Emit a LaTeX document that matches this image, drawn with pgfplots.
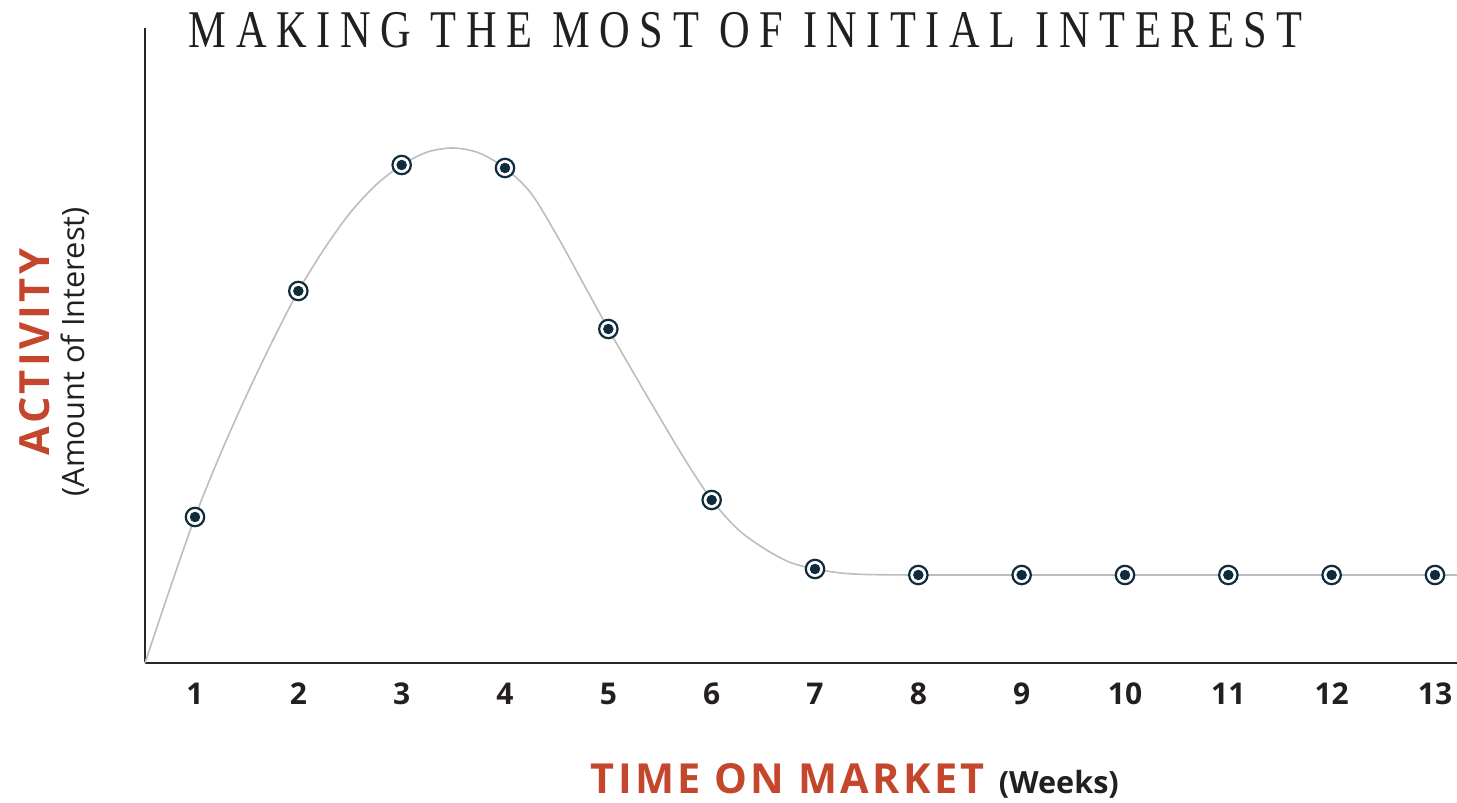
\documentclass[border=0pt]{standalone}
\usepackage{fontspec}
\setmainfont{Open Sans}
\newfontfamily\titlefont[FakeStretch=0.80,LetterSpace=18]{Liberation Serif}
\newfontfamily\spacedbold[LetterSpace=8]{Open Sans}
\usepackage{pgfplots}
\pgfplotsset{compat=1.18}
\definecolor{accent}{HTML}{C4472D}
\definecolor{markdark}{HTML}{0F2B3C}
\definecolor{curvegray}{HTML}{BDBDBD}
\definecolor{textdark}{HTML}{231F20}
\begin{document}
\begin{tikzpicture}
\begin{axis}[
  name=ax,
  scale only axis,
  width=656pt, height=317.5pt,
  xmin=0.516, xmax=13.213,
  ymin=0, ymax=635,
  axis x line=bottom, axis y line=left,
  axis line style={-, line width=1.1pt, black!85},
  xtick={1,...,13}, ytick=\empty,
  major tick length=0pt,
  /pgf/number format/assume math mode=true,
  xticklabel style={font=\fontsize{15}{18}\selectfont\bfseries, text=textdark, yshift=-6.5pt},
  clip=false,
]
\addplot[curvegray, line width=0.8pt, smooth, tension=0.5] coordinates {
(0.516,0) (0.75,72) (1,146) (1.25,210) (1.5,268) (1.75,322) (2,372)
(2.25,414) (2.5,450) (2.75,478) (3,498) (3.25,511) (3.5,515) (3.75,510)
(4,495) (4.25,470) (4.5,428) (4.75,381) (5,334) (5.25,289) (5.5,245)
(5.75,202) (6,163) (6.25,134) (6.5,115) (6.75,101) (7,94) (7.25,90)
(7.5,88.5) (8,88) (9,88) (10,88) (11,88) (12,88) (13,88) (13.213,88)
};
\addplot[only marks, mark=*, mark size=4.6pt, mark options={fill=white, draw=markdark, line width=1.1pt}] coordinates {
(1,146) (2,372) (3,498) (4,495) (5,334) (6,163) (7,94) (8,88) (9,88) (10,88) (11,88) (12,88) (13,88)
};
\addplot[only marks, mark=*, mark size=2.4pt, mark options={fill=markdark, draw=markdark}] coordinates {
(1,146) (2,372) (3,498) (4,495) (5,334) (6,163) (7,94) (8,88) (9,88) (10,88) (11,88) (12,88) (13,88)
};
\node[anchor=base, text=textdark, inner sep=0pt] at (rel axis cs:0.458,0.9685) {\titlefont\fontsize{26.5}{30}\selectfont MAKING THE MOST OF INITIAL INTEREST};
\node[anchor=base, inner sep=0pt] at (rel axis cs:0.541,-0.2055) {{\spacedbold\bfseries\fontsize{20.7}{24}\selectfont\color{accent}TIME ON MARKET}\hspace{7pt}{\bfseries\fontsize{15.3}{18}\selectfont\color{textdark}(Weeks)}};
\node[rotate=90, anchor=center, inner sep=0pt] at (rel axis cs:-0.0838,0.49) {\spacedbold\bfseries\fontsize{20.8}{24}\selectfont\color{accent}ACTIVITY};
\node[rotate=90, anchor=center, inner sep=0pt] at (rel axis cs:-0.0535,0.49) {\fontsize{15.4}{18}\selectfont\color{textdark}(Amount of Interest)};
\end{axis}
\pgfresetboundingbox
\path (ax.south west) ++(-72.5pt,-70pt) coordinate (bl);
\path (ax.south west) ++(656pt,331.5pt) coordinate (tr);
\path[use as bounding box] (bl) rectangle (tr);
\end{tikzpicture}
\end{document}
